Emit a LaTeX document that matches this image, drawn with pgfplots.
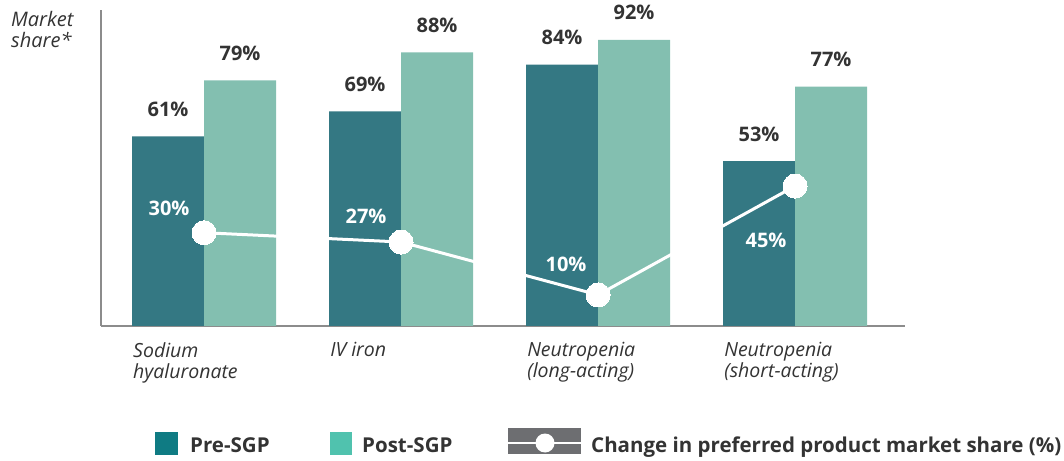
\documentclass[border=0pt]{standalone}
\usepackage{fontspec}
\setmainfont{Open Sans}
\usepackage{pgfplots}
\usepackage{pgfplotstable}
\pgfplotsset{compat=1.18}
\definecolor{pre}{HTML}{347883}
\definecolor{post}{HTML}{83BFB0}
\definecolor{preL}{HTML}{0F7B83}
\definecolor{postL}{HTML}{50C2AE}
\definecolor{boxgrey}{HTML}{6D6E71}
\definecolor{txt}{HTML}{333333}
\definecolor{axgrey}{HTML}{8C8C8C}

\pgfplotstableread{
x pre post
0 61 79
1 69 88
2 84 92
3 53 77
}\bars
\pgfplotstableread{
x chg dx dy
0 30 -35 24
1 27 -35 26
2 10 -32 31
3 45 -29 -54
}\chg

\begin{document}
\begin{tikzpicture}[x=1pt,y=1pt]
\useasboundingbox (0,0) rectangle (1064,460);
\begin{axis}[
 at={(101pt,134pt)}, anchor=south west,
 scale only axis, width=804pt, height=316pt,
 xmin=-0.523, xmax=3.558, ymin=0, ymax=101.6,
 axis x line=bottom, axis y line=left,
 axis line style={axgrey, line width=1.5pt, -},
 ytick=\empty,
 xtick={0,1,2,3},
 xticklabels={{Sodium\\hyaluronate},{IV iron},{Neutropenia\\(long-acting)},{Neutropenia\\(short-acting)}},
 xticklabel style={anchor=north west, xshift=-71pt, yshift=-16pt, inner sep=0pt, align=left, font=\fontsize{19.5}{21}\selectfont\itshape, text=txt},
 major tick length=0pt,
 clip=false,
 /pgf/number format/assume math mode=true,
 nodes near coords={\pgfmathprintnumber{\pgfplotspointmeta}\%},
]
\addplot[ybar, bar width=72pt, bar shift=-36pt, fill=pre, draw=none, point meta=y,
  nodes near coords style={anchor=base, xshift=-36pt, yshift=20pt, font=\fontsize{20}{22}\selectfont\bfseries, text=txt}]
  table[x=x,y=pre]{\bars};
\addplot[ybar, bar width=72pt, bar shift=36pt, fill=post, draw=none, point meta=y,
  nodes near coords style={anchor=base, xshift=36pt, yshift=20pt, font=\fontsize{20}{22}\selectfont\bfseries, text=txt}]
  table[x=x,y=post]{\bars};
\addplot[white, line width=3pt, nodes near coords={}] table[x=x,y=chg]{\chg};
\addplot[white, only marks, mark=*, mark size=12pt, mark options={fill=white, draw=white, line width=0pt}, point meta=y,
  visualization depends on={\thisrow{dx}\as\dx},
  visualization depends on={\thisrow{dy}\as\dy},
  nodes near coords style={anchor=center, xshift=\dx pt, yshift=\dy pt, font=\fontsize{20}{22}\selectfont\bfseries, text=white}]
  table[x=x,y=chg]{\chg};
\end{axis}
\node[anchor=base west, inner sep=0pt, font=\fontsize{20}{21}\selectfont\itshape, text=txt] at (11,433) {Market};
\node[anchor=base west, inner sep=0pt, font=\fontsize{20}{21}\selectfont\itshape, text=txt] at (11,412) {share*};
% legend
\fill[preL] (155,5) rectangle (178,28);
\node[anchor=base west, inner sep=0pt, font=\fontsize{20.5}{22}\selectfont\bfseries, text=txt] at (190,8) {Pre-SGP};
\fill[postL] (330,5) rectangle (352,28);
\node[anchor=base west, inner sep=0pt, font=\fontsize{20.5}{22}\selectfont\bfseries, text=txt] at (362,8) {Post-SGP};
\fill[boxgrey] (508,6) rectangle (581,32);
\draw[white, line width=1.5pt] (508,17)--(581,17);
\fill[white] (545,17) circle (9.5);
\node[anchor=base west, inner sep=0pt, font=\fontsize{20.5}{22}\selectfont\bfseries, text=txt] at (591,8) {Change in preferred product market share (\%)};
\end{tikzpicture}
\end{document}
